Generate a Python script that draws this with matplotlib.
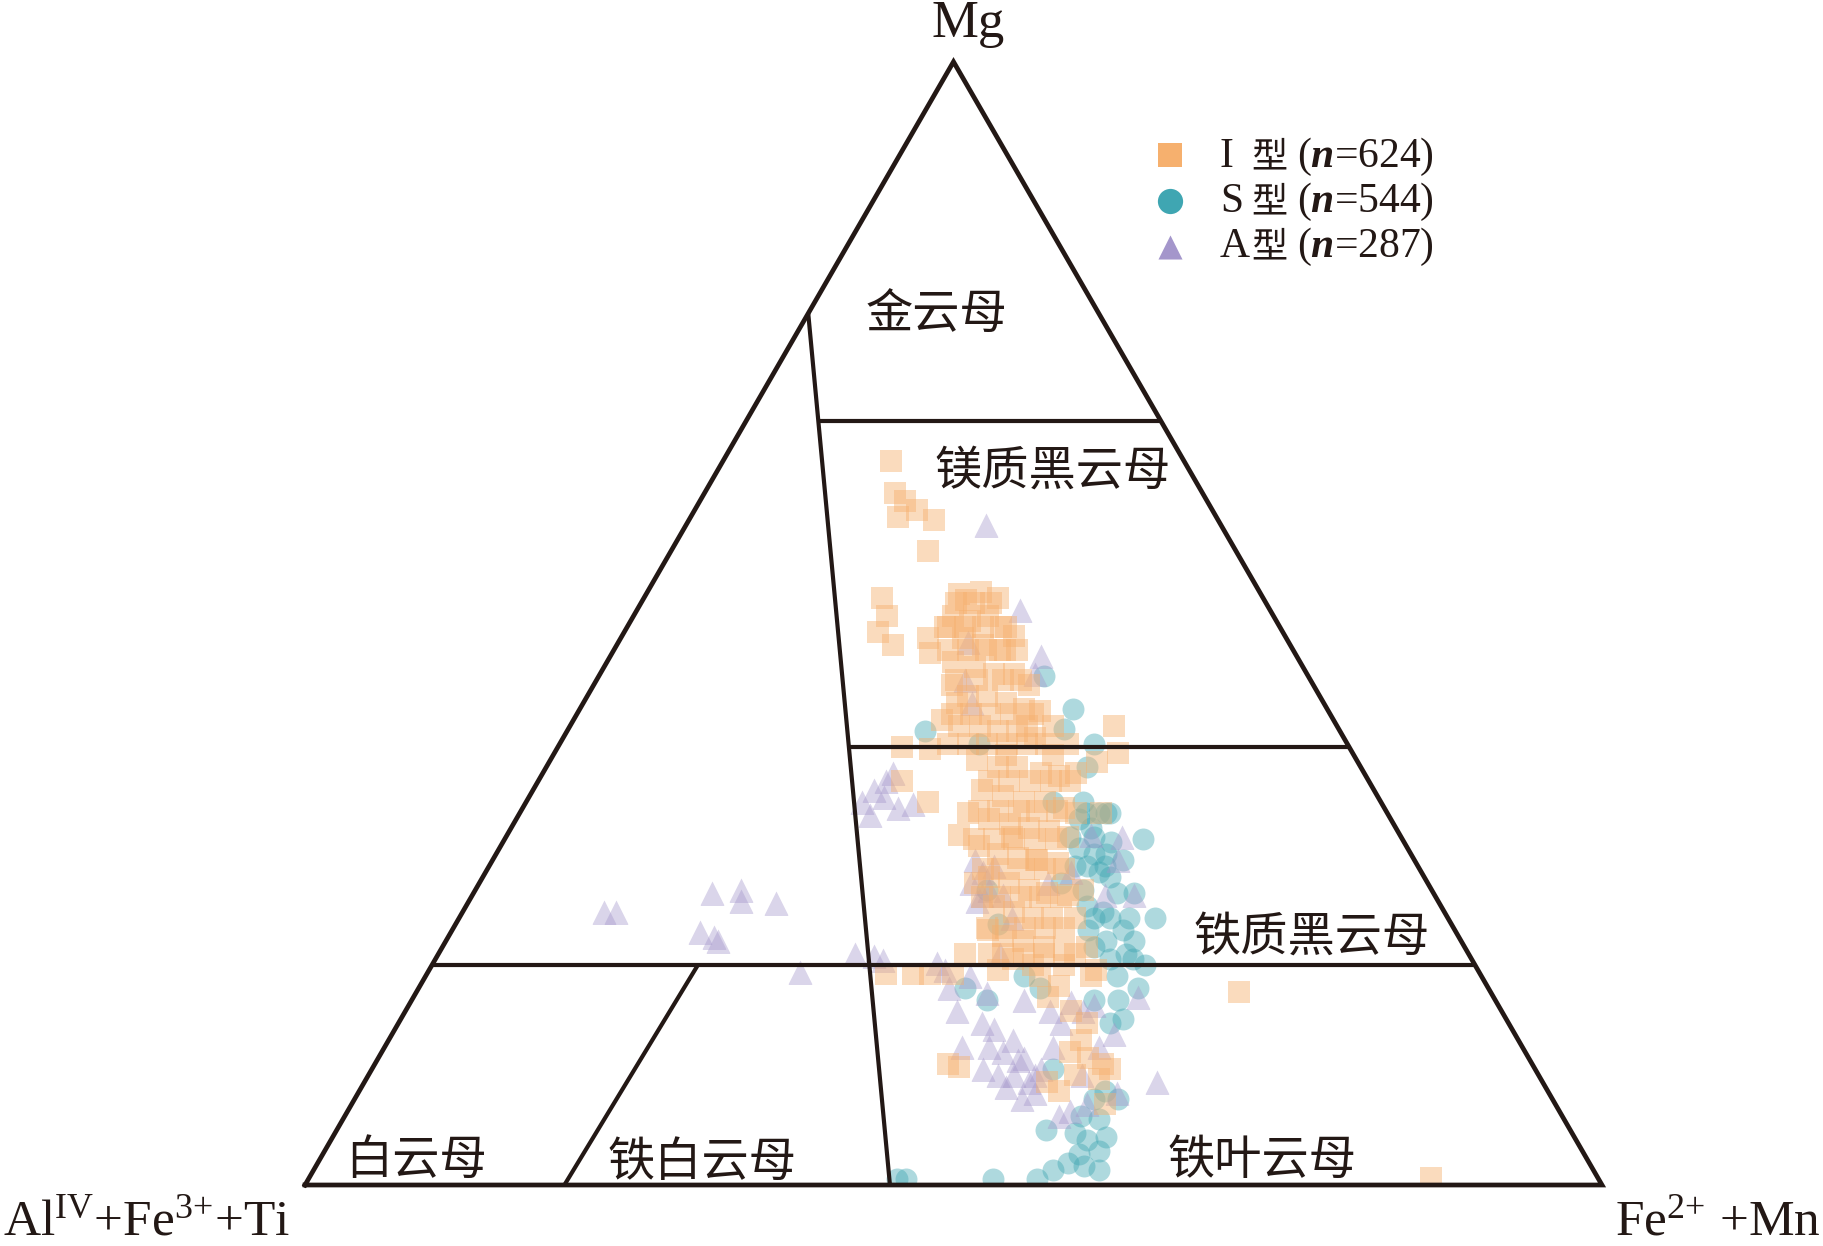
import numpy as np
import matplotlib.pyplot as plt
from matplotlib.patches import Polygon

plt.rcParams['font.family'] = ['Liberation Serif', 'Noto Sans CJK SC', 'DejaVu Sans']
plt.rcParams['mathtext.fontset'] = 'custom'
plt.rcParams['mathtext.rm'] = 'Liberation Serif'
plt.rcParams['mathtext.it'] = 'Liberation Serif:italic:bold'

# 数据: Mg 与 Fe2++Mn 的百分比, AlIV+Fe3++Ti = 100 - Mg - Fe
i_mg = [64.5, 61.6, 60.9, 60.1, 59.5, 59.2, 56.4, 52.3, 50.7, 49.2,
        48.1, 48.7, 47.4, 52.6, 52.8, 52.3, 50.7, 50.2, 50.7, 49.7,
        48.7, 48.1, 47.6, 47.6, 46.6, 46.1, 45.5, 45.5, 44.5, 44.5,
        43.5, 43.5, 42.9, 42.4, 42.2, 41.4, 40.9, 40.9, 40.4, 40.4,
        39.8, 40.9, 39.3, 38.8, 39.0, 40.9, 38.5, 34.1, 31.2, 36.0,
        37.8, 37.2, 37.2, 36.7, 36.4, 35.2, 34.6, 34.1, 34.1, 33.6,
        32.6, 32.1, 31.8, 31.5, 31.0, 30.2, 29.5, 29.1, 28.9, 28.7,
        27.4, 26.9, 26.3, 26.0, 25.8, 24.8, 24.3, 23.8, 23.8, 26.3,
        22.7, 21.7, 21.2, 20.9, 20.6, 20.1, 21.2, 19.1, 18.8, 18.8,
        18.8, 19.1, 18.6, 17.7, 18.6, 17.2, 16.7, 15.5, 14.4, 10.8,
        10.5, 11.8, 11.3, 10.8, 9.8, 9.4, 8.4, 7.2, 0.6, 52.1,
        48.9, 49.7, 40.9, 38.3, 36.7, 33.1, 33.1, 26.9, 23.8, 22.2,
        20.6, 19.6, 19.6, 38.3, 39.3, 42.9, 28.9, 31.0, 18.8, 37.7,
        33.1,
        51.8, 51.8, 51.8, 49.7, 49.7, 49.7, 49.7, 47.6, 47.6, 47.6,
        47.6, 45.0, 45.0, 45.0, 45.0, 41.9, 41.9, 41.9, 41.9, 41.9,
        39.3, 39.3, 39.3, 39.3, 39.3, 36.0, 36.0, 36.0, 36.0, 36.0,
        33.3, 33.3, 33.3, 33.3, 33.3, 30.8, 30.8, 30.8, 30.8, 30.8,
        28.1, 28.1, 28.1, 28.1, 28.1, 25.6, 25.6, 25.6, 25.6, 25.6,
        22.9, 22.9, 22.9, 22.9, 22.9, 20.6, 20.6, 20.6, 20.6, 12.9,
        10.3, 9.2]
i_fe = [12.9, 14.7, 15.8, 17.1, 16.0, 18.9, 19.8, 18.3, 19.5, 19.6,
        21.3, 23.7, 24.5, 24.1, 25.7, 27.3, 24.6, 26.2, 27.3, 29.2,
        26.4, 28.2, 29.8, 31.1, 26.7, 28.6, 30.4, 31.9, 33.6, 27.6,
        29.4, 30.8, 32.6, 34.2, 35.6, 28.4, 30.0, 31.6, 33.2, 34.7,
        36.4, 37.2, 39.2, 28.8, 26.5, 41.9, 43.4, 31.0, 34.8, 28.0,
        32.9, 34.8, 36.3, 38.4, 39.9, 34.6, 36.5, 38.4, 40.0, 41.7,
        36.4, 38.3, 39.9, 41.6, 43.3, 36.9, 38.7, 40.4, 42.0, 43.7,
        39.0, 40.8, 42.7, 44.2, 45.9, 40.7, 42.5, 44.2, 45.7, 46.8,
        41.3, 44.5, 46.4, 48.1, 40.6, 44.5, 49.7, 51.4, 35.4, 38.8,
        40.6, 43.9, 47.4, 49.3, 51.3, 63.4, 48.9, 51.3, 53.1, 44.2,
        45.2, 53.1, 54.7, 56.1, 54.5, 56.5, 53.9, 58.1, 86.5, 24.9,
        30.2, 24.5, 35.2, 38.5, 41.1, 34.6, 42.9, 38.2, 47.5, 42.7,
        42.4, 46.3, 48.7, 34.9, 32.9, 28.8, 41.9, 39.0, 37.5, 42.2,
        44.8,
        24.3, 25.7, 27.0, 24.7, 26.0, 27.4, 28.8, 25.8, 27.3, 28.7,
        30.2, 27.7, 29.3, 31.3, 32.7, 28.9, 30.4, 31.9, 33.5, 35.2,
        29.9, 31.5, 34.5, 36.0, 37.5, 34.7, 36.3, 37.9, 39.5, 41.0,
        35.3, 36.8, 38.4, 39.8, 41.3, 36.2, 37.7, 39.3, 40.9, 42.5,
        38.2, 39.7, 41.4, 43.0, 44.5, 39.4, 40.8, 42.4, 43.9, 45.5,
        41.1, 42.6, 44.1, 45.6, 47.1, 43.5, 45.1, 46.7, 49.1, 53.4,
        56.9, 52.6]

s_mg = [40.4, 42.4, 40.6, 39.3, 37.2, 34.1, 33.1, 31.0, 30.5, 30.8,
        28.9, 27.9, 26.0, 26.0, 24.8, 23.8, 23.8, 21.7, 20.6, 19.6,
        18.6, 17.5, 16.5, 14.8, 31.0, 28.4, 26.3, 22.7, 39.3, 26.3,
        23.2, 17.5, 16.5, 17.5, 18.6, 10.3, 8.4, 7.7, 7.7, 5.9,
        4.6, 4.0, 2.8, 2.0, 1.7, 1.3, 1.3, 0.5, 0.5, 0.5,
        0.5, 34.1, 26.9, 33.1, 32.6, 31.8, 29.5, 29.5, 27.4, 30.0,
        45.3, 4.3, 4.9, 24.3, 22.7, 21.2, 21.7,
        33.1, 33.1, 28.4, 28.4, 23.8, 23.8, 20.1, 20.1, 16.5, 14.4,
        6.1, 3.0]
s_fe = [27.6, 38.0, 38.2, 41.2, 41.7, 42.9, 44.7, 45.3, 46.9, 49.2,
        48.6, 47.3, 49.6, 50.9, 47.9, 50.2, 53.6, 50.9, 53.0, 55.0,
        53.3, 55.5, 54.4, 55.7, 43.5, 45.2, 46.8, 49.0, 32.3, 39.4,
        41.8, 42.1, 44.3, 47.9, 46.1, 52.5, 57.5, 57.0, 58.8, 58.3,
        57.1, 58.3, 58.3, 57.8, 59.2, 57.0, 60.6, 46.1, 45.4, 52.8,
        56.2, 40.6, 44.8, 45.2, 43.4, 44.7, 47.0, 46.1, 48.4, 44.7,
        34.3, 59.6, 54.7, 49.4, 51.7, 50.2, 53.1,
        43.7, 45.5, 46.1, 47.5, 48.9, 51.6, 52.0, 53.8, 52.6, 54.9,
        56.8, 59.7]

a_mg = [24.3, 24.3, 26.0, 26.3, 25.3, 25.1, 22.5, 22.1, 21.7, 19.0,
        20.6, 20.4, 20.0, 34.1, 35.2, 36.0, 36.7, 34.5, 33.6, 33.9,
        32.9, 58.8, 51.2, 48.3, 45.5, 42.9, 45.0, 28.9, 27.9, 28.4,
        26.9, 26.3, 25.8, 25.3, 23.8, 31.2, 28.9, 31.0, 25.8, 25.8,
        27.9, 26.9, 16.7, 19.8, 17.5, 15.5, 18.6, 14.4, 13.9, 12.3,
        11.8, 12.9, 11.3, 9.8, 9.2, 8.7, 8.2, 7.7, 10.3, 12.3,
        14.4, 16.3, 15.5, 16.0, 6.1, 6.6, 7.2, 15.5, 8.2, 9.2,
        10.3, 12.3, 17.1, 16.5, 12.3, 9.8, 20.6, 19.1, 47.1, 13.4,
        9.8, 11.1, 9.8, 25.8]
a_fe = [10.9, 11.8, 18.4, 20.5, 21.0, 23.8, 19.2, 20.5, 21.0, 28.7,
        32.1, 33.7, 34.6, 25.9, 26.3, 26.8, 27.0, 27.4, 28.9, 29.9,
        27.1, 23.1, 29.5, 27.0, 33.5, 30.0, 28.4, 37.2, 38.3, 38.9,
        37.9, 39.6, 40.9, 39.2, 42.6, 45.0, 48.2, 47.5, 51.0, 48.8,
        45.1, 43.8, 55.9, 38.8, 40.9, 42.5, 42.0, 45.0, 46.2, 46.6,
        47.9, 48.1, 49.8, 49.8, 51.2, 49.7, 52.2, 51.4, 51.6, 51.5,
        51.1, 50.9, 52.2, 52.8, 55.1, 55.7, 56.7, 49.7, 58.5, 61.1,
        47.1, 44.5, 44.0, 47.2, 55.1, 55.0, 43.3, 39.8, 33.2, 55.7,
        48.5, 49.4, 51.4, 39.3]

legend_type = ['I', 'S', 'A']
legend_n = [624, 544, 287]
colors = ['#F6B06E', '#3FA6B2', '#A496CB']
markers = ['s', 'o', '^']

# 分区边界 (Mg, Fe)
field_lines = [
    [(77.6, 0.0), (0.0, 45.1)],
    [(68.0, 5.6), (68.0, 32.0)],
    [(39.0, 22.4), (39.0, 61.0)],
    [(19.6, 0.0), (19.6, 80.4)],
    [(19.6, 20.5), (0.0, 20.0)],
]
field_names = ['金云母', '镁质黑云母', '铁质黑云母', '白云母', '铁白云母', '铁叶云母']
field_pos = [(0.487, 0.670), (0.576, 0.550), (0.776, 0.191),
             (0.086, 0.019), (0.306, 0.017), (0.738, 0.019)]


def tern(mg, fe):
    mg = np.asarray(mg, dtype=float) / 100
    fe = np.asarray(fe, dtype=float) / 100
    return fe + mg / 2, mg * np.sqrt(3) / 2


ink = '#231815'
fig = plt.figure(figsize=(18.24, 12.46), dpi=100)
ax = fig.add_axes([0, 0, 1, 1])
ax.set_xlim(-305 / 1297, 1519 / 1297)
ax.set_ylim(-61 / 1297, 1185 / 1297)
ax.axis('off')

clip = Polygon([[0, 0], [1, 0], [0.5, np.sqrt(3) / 2]], closed=True, transform=ax.transData)

# 散点
for mg, fe, c, m, s, a, z in [(s_mg, s_fe, colors[1], 'o', 250, 0.42, 2),
                              (a_mg, a_fe, colors[2], '^', 300, 0.40, 3),
                              (i_mg, i_fe, colors[0], 's', 240, 0.45, 4)]:
    x, y = tern(mg, fe)
    sc = ax.scatter(x, y, s=s, c=c, marker=m, alpha=a, linewidths=0, zorder=z)
    sc.set_clip_path(clip)

# 三角形和分区线
ox, oy = tern([0, 0, 100, 0], [0, 100, 0, 0])
ax.plot(ox, oy, color=ink, lw=3.4, solid_joinstyle='miter', zorder=6)
for seg in field_lines:
    lx, ly = tern([p[0] for p in seg], [p[1] for p in seg])
    ax.plot(lx, ly, color=ink, lw=3.0, solid_capstyle='butt', zorder=5)

for name, (tx, ty) in zip(field_names, field_pos):
    ax.text(tx, ty, name, ha='center', va='center', fontsize=34, color=ink,
            family=['Noto Sans CJK SC'], zorder=7)

# 端元标注
ax.text(663 / 1297, 1148 / 1297, 'Mg', ha='center', va='baseline', fontsize=38, color=ink)
ax.text(-302 / 1297, -50 / 1297, r'Al$^{\mathrm{IV}}$+Fe$^{3{+}}$+Ti', ha='left',
        va='baseline', fontsize=37, color=ink)
ax.text(1516 / 1297, -50 / 1297, r'Fe$^{2{+}}$ +Mn', ha='right', va='baseline',
        fontsize=37, color=ink)

# 图例
key_y = [1030 / 1297, 984 / 1297, 938 / 1297]
base_y = [1018 / 1297, 973 / 1297, 928 / 1297]
for k in range(3):
    ax.scatter([865 / 1297], [key_y[k]], s=[300, 330, 300][k], c=colors[k],
               marker=markers[k], linewidths=0, zorder=8)
    ax.text(915 / 1297, base_y[k], legend_type[k], ha='left', va='baseline',
            fontsize=30, color=ink)
    ax.text(946 / 1297, base_y[k], '型', ha='left', va='baseline', fontsize=26,
            color=ink, family=['Noto Sans CJK SC'])
    ax.text(992 / 1297, base_y[k], r'($n$=%d)' % legend_n[k], ha='left',
            va='baseline', fontsize=30, color=ink, family='Liberation Serif')

fig.savefig('out.png', dpi=100)
